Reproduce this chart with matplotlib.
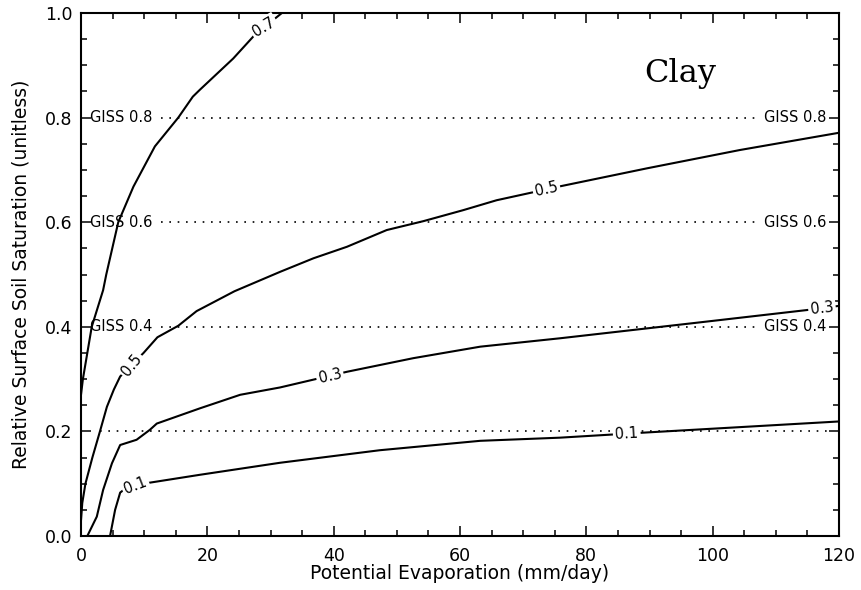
import numpy as np
import matplotlib
matplotlib.use("Agg")
import matplotlib.pyplot as plt
from matplotlib.ticker import MultipleLocator

# ---- data ----
c07_x = [0.0, 0.3, 1.0, 1.7, 3.5, 4.0, 5.9, 8.3, 11.7, 15.4, 17.7, 18.8, 24.1, 27.5, 31.8]
c07_y = [0.27, 0.30, 0.35, 0.40, 0.47, 0.50, 0.60, 0.668, 0.745, 0.80, 0.84, 0.853, 0.913, 0.958, 1.0]

c05_x = [0.0, 0.2, 0.7, 1.8, 3.0, 4.1, 5.2, 6.2, 8.0, 9.9, 12.1, 15.4, 18.3, 24.3,
         31.5, 36.8, 42.1, 48.4, 54.2, 60.5, 65.8, 71.1, 76.0, 89.6, 104.3, 120.0]
c05_y = [0.03, 0.063, 0.10, 0.15, 0.20, 0.247, 0.28, 0.305, 0.327, 0.350, 0.380, 0.402, 0.430, 0.468,
         0.505, 0.531, 0.553, 0.585, 0.602, 0.623, 0.642, 0.656, 0.669, 0.703, 0.738, 0.771]

c03_x = [1.0, 2.5, 3.5, 4.9, 6.2, 8.8, 10.9, 12.0, 18.8, 25.2, 31.5, 42.1, 52.6, 63.2, 75.8, 96.9, 114.9, 120.0]
c03_y = [0.0, 0.037, 0.088, 0.139, 0.174, 0.184, 0.203, 0.215, 0.244, 0.270, 0.284, 0.314, 0.340, 0.362,
         0.378, 0.407, 0.432, 0.440]

c01_x = [4.6, 5.4, 6.2, 7.5, 10.9, 18.8, 31.5, 47.3, 63.2, 75.8, 89.6, 120.0]
c01_y = [0.0, 0.05, 0.083, 0.095, 0.102, 0.117, 0.140, 0.164, 0.182, 0.188, 0.198, 0.219]

curve_levels = ["0.7", "0.5", "0.3", "0.1"]
giss_levels = [0.2, 0.4, 0.6, 0.8]
giss_labels = ["", "GISS 0.4", "GISS 0.6", "GISS 0.8"]

x_label = "Potential Evaporation (mm/day)"
y_label = "Relative Surface Soil Saturation (unitless)"
title_text = "Clay"

# ---- figure ----
fig = plt.figure(figsize=(8.61, 5.90), dpi=100)
ax = fig.add_axes([81 / 861, 1 - 536 / 590, (839 - 81) / 861, (536 - 13) / 590])
ax.set_xlim(0, 120)
ax.set_ylim(0, 1.0)

curves = [(c07_x, c07_y), (c05_x, c05_y), (c03_x, c03_y), (c01_x, c01_y)]
for cx, cy in curves:
    ax.plot(cx, cy, color="black", lw=1.5, zorder=2, clip_on=True, solid_capstyle="butt")

# dotted GISS reference lines
for lev, lab in zip(giss_levels, giss_labels):
    if lab:
        ax.plot([12.7, 107.3], [lev, lev], color="black", lw=1.2, ls=(0, (1, 4)), zorder=1)
        ax.text(1.4, lev, lab, ha="left", va="center", fontsize=10.5, zorder=4)
        ax.text(118.0, lev, lab, ha="right", va="center", fontsize=10.5, zorder=4)
    else:
        ax.plot([3.0, 118.5], [lev, lev], color="black", lw=1.2, ls=(0, (1, 4)), zorder=1)

# inline contour labels
label_spots = [(0, 29.0, 10.0), (1, 8.0, 3.0), (1, 73.7, 6.0), (2, 39.4, 6.0),
               (2, 117.3, 4.0), (3, 8.6, 2.5), (3, 86.4, 5.0)]
for ci, lx, dx in label_spots:
    cx, cy = curves[ci]
    ly = np.interp(lx, cx, cy)
    p1 = ax.transData.transform((lx - dx, np.interp(lx - dx, cx, cy)))
    p2 = ax.transData.transform((lx + dx, np.interp(lx + dx, cx, cy)))
    ang = np.degrees(np.arctan2(p2[1] - p1[1], p2[0] - p1[0]))
    ax.text(lx, ly, curve_levels[ci], ha="center", va="center", rotation=ang,
            rotation_mode="anchor", fontsize=10.5, zorder=3,
            bbox=dict(boxstyle="square,pad=0.15", fc="white", ec="none"))

ax.text(94.8, 0.885, title_text, ha="center", va="center", fontsize=23,
        family="DejaVu Serif")

# axes styling
ax.xaxis.set_major_locator(MultipleLocator(20))
ax.xaxis.set_minor_locator(MultipleLocator(5))
ax.yaxis.set_major_locator(MultipleLocator(0.2))
ax.yaxis.set_minor_locator(MultipleLocator(0.05))
ax.tick_params(which="both", direction="in", top=True, right=True, width=1.1, labelsize=12.5)
ax.tick_params(which="major", length=7.5)
ax.tick_params(which="minor", length=4)
ax.tick_params(axis="y", pad=6)
ax.tick_params(axis="x", pad=8)
ax.set_xticklabels([f"{int(v)}" for v in ax.get_xticks()])
ax.set_yticklabels([f"{v:.1f}" for v in ax.get_yticks()])
for s in ax.spines.values():
    s.set_linewidth(1.5)

ax.set_xlabel(x_label, fontsize=13.5)
ax.set_ylabel(y_label, fontsize=13.5)
ax.xaxis.set_label_coords(0.5, -0.053)
ax.yaxis.set_label_coords(-0.066, 0.5)

fig.savefig("out.png", dpi=100)
